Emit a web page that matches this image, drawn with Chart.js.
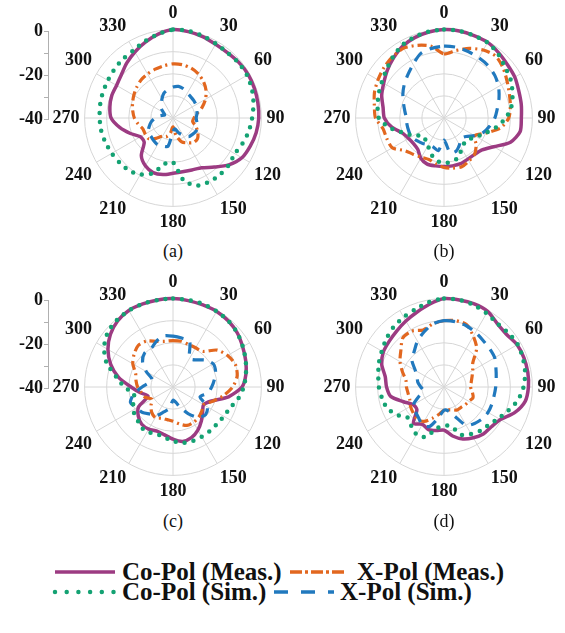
<!DOCTYPE html>
<html><head><meta charset="utf-8">
<script src="https://cdn.jsdelivr.net/npm/chart.js@4.4.0/dist/chart.umd.min.js"></script>
<style>
html,body{margin:0;padding:0;background:#fff;width:565px;height:633px;overflow:hidden;position:relative;font-family:'Liberation Serif','Times New Roman',serif;color:#111;}
canvas{position:absolute;display:block;}
.cap{position:absolute;font-size:18px;line-height:18px;transform:translate(-50%,-50%);white-space:nowrap;}
.lt{position:absolute;font-size:25px;font-weight:bold;line-height:25px;white-space:nowrap;}
svg{position:absolute;overflow:visible;}
</style></head>
<body>
<canvas id="pa" width="300" height="230" style="left:23px;top:4px"></canvas>
<canvas id="pb" width="300" height="230" style="left:294px;top:4px"></canvas>
<canvas id="pc" width="300" height="230" style="left:23px;top:273px"></canvas>
<canvas id="pd" width="300" height="230" style="left:294px;top:273px"></canvas>
<canvas id="axa" width="60" height="112" style="left:0px;top:19px"></canvas>
<canvas id="axc" width="60" height="112" style="left:0px;top:288px"></canvas>
<div class="cap" style="left:173px;top:251px">(a)</div>
<div class="cap" style="left:444px;top:251px">(b)</div>
<div class="cap" style="left:173px;top:521px">(c)</div>
<div class="cap" style="left:444px;top:521px">(d)</div>

<svg width="60" height="10" style="left:55px;top:567px"><line x1="0" y1="5" x2="60" y2="5" stroke="#9C3B82" stroke-width="3.5"/></svg>
<div class="lt" style="left:122px;top:559px">Co-Pol (Meas.)</div>
<svg width="56" height="10" style="left:290px;top:567px"><line x1="0" y1="5" x2="56" y2="5" stroke="#E2671F" stroke-width="3.5" stroke-dasharray="12 3 3 3"/></svg>
<div class="lt" style="left:357px;top:559px">X-Pol (Meas.)</div>
<svg width="60" height="10" style="left:55px;top:587px"><line x1="0" y1="5" x2="60" y2="5" stroke="#14A273" stroke-width="4.5" stroke-linecap="round" stroke-dasharray="0 11.7"/></svg>
<div class="lt" style="left:122px;top:579px">Co-Pol (Sim.)</div>
<svg width="60" height="10" style="left:274px;top:587px"><line x1="0" y1="5" x2="60" y2="5" stroke="#2179BE" stroke-width="3.5" stroke-dasharray="14 13"/></svg>
<div class="lt" style="left:340px;top:579px">X-Pol (Sim.)</div>

<script>
// ---- data (dB), angles 0..350 step 10, clockwise from top ----
const angles = [0,10,20,30,40,50,60,70,80,90,100,110,120,130,140,150,160,170,180,190,200,210,220,230,240,250,260,270,280,290,300,310,320,330,340,350];
const thetaTicks = [0,30,60,90,120,150,180,210,240,270,300,330];
const radialTickLabels = [0,-20,-40];
const seriesNames = ['Co-Pol (Meas.)','X-Pol (Meas.)','Co-Pol (Sim.)','X-Pol (Sim.)'];

// (a)
const coMeasA = [0,-0.3,-0.8,-1.5,-1.5,-1,-0.7,-0.8,-1,-1.2,-1.8,-2.8,-4,-7,-11,-14,-15,-15.3,-15,-14,-13.7,-15,-17.7,-23,-23,-19.5,-15.5,-12,-11,-10.5,-10.5,-9.5,-7.5,-5.5,-3.5,-1.5];
const xMeasA  = [-15.5,-15.5,-16,-17,-18.5,-20.5,-23,-26,-29,-30.5,-31,-29,-27,-25.5,-25.5,-27,-28.5,-32,-36,-33,-31,-30.5,-28,-25.5,-25.5,-25.5,-24,-22.5,-21.5,-20.5,-19.5,-18.5,-17.5,-17,-16.5,-16];
const coSimA  = [0,0,-0.5,-1.2,-1.5,-1.2,-1.3,-2,-3,-4.2,-5.2,-6.5,-7.7,-7,-6.7,-6.8,-7.5,-11,-20,-19,-13.5,-10.5,-9,-8.5,-8,-7.5,-7,-6.8,-6.5,-6.2,-6,-5.5,-5,-4.5,-3,-1.5];
const xSimA   = [-26,-25.5,-26,-27,-27.5,-27.7,-28,-28.5,-29,-29.5,-29,-28,-28,-28.5,-29,-31,-33,-35,-34,-27,-26.5,-26,-26.5,-27,-27,-28.5,-30,-32,-34,-36,-35,-33,-32,-30,-28,-27];
// (b)
const coMeasB = [0,0,-0.3,-0.5,-1.5,-2.5,-3,-4,-4.5,-5,-5,-8,-14,-17.5,-18.5,-18.5,-18,-18,-18,-18,-17.8,-19,-21.5,-22,-21.5,-20,-16,-13,-12,-10,-8.5,-6.5,-4.5,-2.5,-1.3,-0.5];
const xMeasB  = [-11,-9,-6.5,-4.5,-3.5,-5,-7,-8.5,-9.5,-10.7,-14,-20,-24,-21,-18.5,-17.5,-16.5,-17,-17.6,-19,-20,-19.5,-18.5,-17,-13,-12.5,-12,-9,-8,-6.5,-5.5,-4.5,-3.8,-3.5,-5,-7];
const coSimB  = [0,0,-0.3,-0.6,-2,-4,-5.2,-7,-9,-12,-16,-20,-23,-25,-25.5,-24,-21,-20,-19.5,-20.5,-22.7,-25.5,-27,-27.5,-24,-20.5,-15,-10.5,-9.5,-8.5,-7.5,-6,-4,-2,-1,-0.3];
const xSimB   = [-7.5,-7.5,-8,-8.5,-9,-10,-11.5,-13.5,-15.5,-17,-19,-21,-24,-27,-28,-26,-24,-24,-30,-25,-26,-26,-25,-24,-23,-23,-23,-23,-22,-20.5,-18.5,-16.5,-14.5,-12,-9,-8];
// (c)
const coMeasC = [0,-0.3,-0.5,-0.5,-1,-2,-3.6,-5,-6.5,-8.8,-14.5,-21.5,-24,-22.5,-20,-17.5,-15.6,-15,-16.4,-18,-18.8,-18,-18,-19.5,-22,-28,-25,-21,-15,-10,-6,-3,-1,0,0,0];
const xMeasC  = [-19,-19,-19.5,-19.5,-19,-14,-11.5,-10,-10.5,-13,-17,-21,-24,-23,-22,-21.5,-21.5,-23,-24.5,-25,-25,-24,-25,-27,-29,-26.5,-25.5,-24,-23,-22,-19,-17,-15.5,-16,-18,-19];
const coSimC  = [0,0,0,-0.5,-1,-2,-3.5,-5,-6.5,-8,-10,-12.5,-13.5,-14,-14,-14,-14,-14.3,-15.5,-17,-17.5,-16.5,-17,-18.5,-19,-21,-22,-18,-14,-8,-4,-1.5,-0.5,0,0,0];
const xSimC   = [-17,-17.5,-18,-25,-24,-21,-19,-19.5,-21,-22.5,-24,-27,-22,-20.7,-22,-26,-30,-33,-34,-30,-28,-25,-24,-22,-21,-19.5,-22,-26,-29,-30,-26,-22,-20,-20,-18,-16.5];
// (d)
const coMeasD = [0,0,0,-0.5,-2.5,-3,-1.8,-1.5,-1.5,-1.8,-2.7,-6,-10.5,-12,-12.3,-13.5,-15,-17.5,-20.5,-20,-19.5,-20.5,-18.5,-24,-24,-20.5,-15.5,-14,-13,-10,-8.3,-7.7,-6.8,-5.5,-4,-2];
const xMeasD  = [-10,-9.5,-10,-13.5,-17,-23,-25,-26.5,-27.5,-28,-27,-26,-27,-27.5,-28,-28,-29,-29.5,-29.5,-27.5,-25,-22,-21,-21.8,-22.5,-23.5,-23.5,-23,-22.5,-20,-17,-14.5,-11,-10.8,-12.5,-11];
const coSimD  = [0,0,-0.5,-1.5,-2.5,-2,-1.5,-2,-2.7,-4,-6,-9,-11.5,-13.5,-14.2,-15.5,-17,-22,-22.5,-21,-16,-15.2,-17,-18.5,-15,-12.5,-11.5,-10.5,-9.8,-8.6,-7.5,-6,-4.5,-3.5,-2.5,-1];
const xSimD   = [-10,-10,-10.5,-11.5,-12.5,-13,-13.5,-15,-16,-16.6,-17,-17,-17,-17.5,-18.5,-20,-26,-29,-29.5,-26,-21,-20.3,-22,-23,-24,-28,-30.5,-29.5,-28,-27,-25,-21,-19,-16,-13.5,-11];

// ---- styles ----
const PURPLE='#9C3B82', ORANGE='#E2671F', GREEN='#14A273', BLUE='#2179BE';
const GRID='#d6d6d6';
const labelFont = {family:"'Liberation Serif','Times New Roman',serif", size:18, weight:'bold'};

function ds(label, data, color, width, dash, cap){
  return {label, data, borderColor:color, backgroundColor:'transparent', borderWidth:width,
    borderDash:dash, borderCapStyle:cap, borderJoinStyle:'round', fill:false,
    pointRadius:0, pointHoverRadius:0, tension:0.25};
}
function polar(id, coMeas, xMeas, coSim, xSim){
  new Chart(document.getElementById(id), {
    type:'radar',
    data:{labels:angles, datasets:[
      ds(seriesNames[2], coSim, GREEN, 4.5, [0,9], 'round'),
      ds(seriesNames[3], xSim, BLUE, 3.2, [11,8], 'butt'),
      ds(seriesNames[1], xMeas, ORANGE, 3.2, [9,4,2,4], 'butt'),
      ds(seriesNames[0], coMeas, PURPLE, 3.5, [], 'round')
    ]},
    options:{
      responsive:false, animation:false, devicePixelRatio:1,
      layout:{padding:0},
      plugins:{legend:{display:false}, tooltip:{enabled:false}},
      scales:{r:{
        min:-40, max:0,
        ticks:{display:false, stepSize:10},
        grid:{circular:true, color:GRID, lineWidth:1},
        angleLines:{color:GRID, lineWidth:(c)=> thetaTicks.includes(angles[c.index]) ? 1 : 0},
        pointLabels:{color:'#111', font:labelFont, padding:5,
          callback:(l)=> thetaTicks.includes(l) ? String(l) : ''}
      }}
    }
  });
}
function radialAxis(id){
  new Chart(document.getElementById(id), {
    type:'scatter',
    data:{datasets:[]},
    options:{
      responsive:false, animation:false, devicePixelRatio:1,
      layout:{padding:{left:8, top:12, bottom:12, right:0}},
      plugins:{legend:{display:false}, tooltip:{enabled:false}},
      scales:{
        x:{display:false},
        y:{position:'left', min:-40, max:0,
           afterFit:(s)=>{ s.width = 40; },
           ticks:{stepSize:10, autoSkip:false, padding:1, color:'#111', font:labelFont,
             callback:(v)=> radialTickLabels.includes(v) ? String(v) : ''},
           grid:{drawOnChartArea:false, drawTicks:true, tickLength:4, color:'#b0b0b0'},
           border:{display:true, color:'#b0b0b0'}}
      }
    }
  });
}
polar('pa', coMeasA, xMeasA, coSimA, xSimA);
polar('pb', coMeasB, xMeasB, coSimB, xSimB);
polar('pc', coMeasC, xMeasC, coSimC, xSimC);
polar('pd', coMeasD, xMeasD, coSimD, xSimD);
radialAxis('axa');
radialAxis('axc');
</script>
</body></html>
